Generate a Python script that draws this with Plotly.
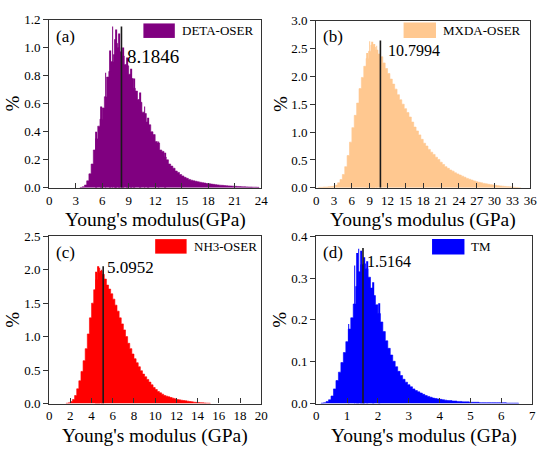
import plotly.graph_objects as go

# ---------------- data ----------------
# (a) DETA-OSER : histogram, bins of width 0.25 starting at 3.5 GPa
a_start, a_width = 3.5, 0.25
a_vals = [0.003, 0.008, 0.02, 0.05, 0.10, 0.17, 0.27, 0.35, 0.44, 0.49, 0.57, 0.65, 0.79, 0.83,
          0.90, 0.95, 1.03, 1.00, 0.97, 0.94, 0.88, 0.87, 0.81, 0.78, 0.71, 0.69, 0.63, 0.61,
          0.54, 0.53, 0.47, 0.45, 0.40, 0.38, 0.33, 0.32, 0.27, 0.26, 0.22, 0.20, 0.17, 0.155,
          0.14, 0.12, 0.11, 0.095, 0.085, 0.075, 0.068, 0.06, 0.055, 0.05, 0.047, 0.043, 0.04,
          0.037, 0.034, 0.031, 0.030, 0.027, 0.025, 0.023, 0.021, 0.019, 0.018, 0.016, 0.015,
          0.014, 0.013, 0.012, 0.011, 0.010, 0.009, 0.008, 0.008, 0.007, 0.006, 0.006, 0.005,
          0.005, 0.004]
a_spike_x = [5.3, 5.9, 6.4, 6.9, 7.2, 7.45, 7.6, 7.9, 8.4, 8.8, 9.3, 9.6, 10.3, 10.8, 11.2, 12.4, 13.1]
a_spike_y = [0.40, 0.58, 0.82, 0.98, 1.15, 1.06, 1.13, 1.10, 1.00, 0.93, 0.85, 0.78, 0.68, 0.58, 0.50, 0.33, 0.25]
a_mean = 8.1846

# (b) MXDA-OSER : bins of width 0.4 starting at 0.4 GPa
b_start, b_width = 0.4, 0.4
b_vals = [0.01, 0.01, 0.015, 0.015, 0.02, 0.025, 0.03, 0.05, 0.09, 0.15, 0.24, 0.38, 0.58, 0.82,
          1.08, 1.30, 1.52, 1.78, 1.98, 2.18, 2.32, 2.45, 2.56, 2.52, 2.47, 2.40, 2.35, 2.24,
          2.14, 2.05, 1.95, 1.86, 1.77, 1.67, 1.58, 1.50, 1.42, 1.35, 1.27, 1.18, 1.09, 1.02,
          0.95, 0.87, 0.80, 0.75, 0.69, 0.64, 0.60, 0.55, 0.51, 0.46, 0.42, 0.38, 0.35, 0.32,
          0.30, 0.27, 0.25, 0.23, 0.21, 0.19, 0.17, 0.155, 0.14, 0.125, 0.11, 0.10, 0.09, 0.08,
          0.072, 0.065, 0.058, 0.052, 0.046, 0.04, 0.035, 0.03, 0.026, 0.022, 0.018, 0.014,
          0.01, 0.007, 0.004]
b_spike_x = [8.6, 9.0, 9.4, 9.8, 10.2]
b_spike_y = [2.42, 2.63, 2.62, 2.58, 2.55]
b_mean = 10.7994

# (c) NH3-OSER : bins of width 0.2 starting at 1.6 GPa
c_start, c_width = 1.6, 0.2
c_vals = [0.005, 0.01, 0.03, 0.06, 0.12, 0.22, 0.34, 0.48, 0.64, 0.82, 1.04, 1.28, 1.50, 1.70,
          1.85, 1.95, 1.98, 1.93, 1.86, 1.77, 1.71, 1.64, 1.56, 1.47, 1.38, 1.28, 1.19, 1.10,
          1.00, 0.90, 0.82, 0.74, 0.67, 0.61, 0.55, 0.49, 0.44, 0.40, 0.36, 0.32, 0.28, 0.24,
          0.21, 0.18, 0.16, 0.14, 0.12, 0.11, 0.10, 0.09, 0.08, 0.07, 0.06, 0.055, 0.05, 0.045,
          0.04, 0.035, 0.03, 0.025, 0.02, 0.018, 0.015, 0.012, 0.01, 0.008, 0.006, 0.005]
c_spike_x = [4.45, 4.6, 4.75, 4.95]
c_spike_y = [1.97, 2.05, 2.03, 2.00]
c_mean = 5.0952

# (d) TM : bins of width 0.08 starting at 0.16 GPa
d_start, d_width = 0.16, 0.08
d_vals = [0.001, 0.002, 0.005, 0.009, 0.018, 0.035, 0.055, 0.075, 0.098, 0.122, 0.148, 0.178,
          0.205, 0.238, 0.28, 0.315, 0.332, 0.334, 0.322, 0.302, 0.276, 0.258, 0.236, 0.215,
          0.195, 0.172, 0.150, 0.132, 0.116, 0.101, 0.088, 0.077, 0.067, 0.058, 0.051, 0.045,
          0.040, 0.035, 0.031, 0.028, 0.025, 0.022, 0.019, 0.017, 0.015, 0.013, 0.012, 0.011,
          0.010, 0.009, 0.008, 0.007, 0.007, 0.006, 0.006, 0.005, 0.005, 0.004, 0.004, 0.004,
          0.003, 0.003, 0.003, 0.003, 0.002, 0.002, 0.002, 0.002, 0.002, 0.002, 0.002, 0.002,
          0.002, 0.002, 0.002, 0.001, 0.001, 0.001, 0.001, 0.001]
d_spike_x = [1.05, 1.25, 1.33, 1.38, 1.45, 1.55, 1.65, 1.85, 2.05]
d_spike_y = [0.19, 0.33, 0.36, 0.37, 0.365, 0.35, 0.34, 0.29, 0.24]
d_mean = 1.5164

panels = [
    dict(name="DETA-OSER", label="(a)", color="#800080", start=a_start, width=a_width, vals=a_vals,
         sx=a_spike_x, sy=a_spike_y, sw=0.07, mean=a_mean, line_top=1.15,
         xr=[0, 24], xd=3, yr=[0, 1.2], yd=0.2, xtitle="Young's modulus(GPa)",
         ann_dx=0.4, ann_y=0.94, ann_size=19),
    dict(name="MXDA-OSER", label="(b)", color="#FFC890", start=b_start, width=b_width, vals=b_vals,
         sx=b_spike_x, sy=b_spike_y, sw=0.12, mean=b_mean, line_top=2.64,
         xr=[0, 36], xd=3, yr=[0, 3.0], yd=0.5, xtitle="Young's modulus (GPa)",
         ann_dx=1.0, ann_y=2.47, ann_size=16),
    dict(name="NH3-OSER", label="(c)", color="#FF0000", start=c_start, width=c_width, vals=c_vals,
         sx=c_spike_x, sy=c_spike_y, sw=0.06, mean=c_mean, line_top=2.05,
         xr=[0, 20], xd=2, yr=[0, 2.5], yd=0.5, xtitle="Young's modulus (GPa)",
         ann_dx=0.15, ann_y=2.03, ann_size=17),
    dict(name="TM", label="(d)", color="#0000FF", start=d_start, width=d_width, vals=d_vals,
         sx=d_spike_x, sy=d_spike_y, sw=0.02, mean=d_mean, line_top=0.372,
         xr=[0, 7], xd=1, yr=[0, 0.4], yd=0.1, xtitle="Young's modulus (GPa)",
         ann_dx=0.07, ann_y=0.34, ann_size=16),
]

# ---------------- layout geometry (pixels) ----------------
W, H = 550, 457
boxes = [  # left, right, top, bottom in px
    (47, 263, 13, 187),
    (319, 537, 14, 187),
    (47, 263, 237, 410),
    (319, 539, 237, 410),
]
legend_boxes = [(143, 175, 17, 32, 180), (408, 441, 16, 32, 446),
                (155, 187, 240, 255, 192), (437, 470, 240, 256, 475)]
FONT = "Liberation Serif"

fig = go.Figure()
layout = dict(width=W, height=H, margin=dict(l=0, r=0, t=0, b=0),
              plot_bgcolor="white", paper_bgcolor="white", showlegend=False,
              barmode="overlay", font=dict(family=FONT, color="black"))
annotations = []
shapes = []


def px2x(p):
    return p / W


def px2y(p):
    return 1 - p / H


for i, (p, (l, r, t, b)) in enumerate(zip(panels, boxes)):
    k = "" if i == 0 else str(i + 1)
    xa, ya = "x" + k, "y" + k
    n = len(p["vals"])
    edges = [p["start"] + p["width"] * j for j in range(n + 1)]
    hist_y = list(p["vals"]) + [p["vals"][-1]]
    fig.add_trace(go.Scatter(x=[edges[0]] + edges + [edges[-1]], y=[0] + hist_y + [0],
                             mode="lines", line=dict(shape="hv", color=p["color"], width=0.6),
                             fill="toself", fillcolor=p["color"], xaxis=xa, yaxis=ya))
    fig.add_trace(go.Bar(x=p["sx"], y=p["sy"], width=p["sw"], opacity=1,
                         marker=dict(color=p["color"], line=dict(width=0)),
                         xaxis=xa, yaxis=ya))
    fig.add_trace(go.Scatter(x=[p["mean"], p["mean"]], y=[0, p["line_top"]], mode="lines",
                             line=dict(color="#1a1a1a", width=1.6), xaxis=xa, yaxis=ya))
    nx = int(round((p["xr"][1] - p["xr"][0]) / p["xd"]))
    ny = int(round((p["yr"][1] - p["yr"][0]) / p["yd"]))
    axis_common = dict(showgrid=False, zeroline=False, showline=True, mirror=True,
                       linecolor="#333333", linewidth=1.2, ticklen=5,
                       tickcolor="#333333", tickfont=dict(family=FONT, size=13, color="black"))
    layout["xaxis" + k] = dict(axis_common, domain=[px2x(l), px2x(r)], range=p["xr"],
                               ticks="inside", tickmode="array",
                               tickvals=[p["xr"][0] + p["xd"] * j for j in range(nx + 1)],
                               ticktext=[f"{p['xr'][0] + p['xd'] * j:g}" for j in range(nx + 1)],
                               anchor=ya)
    layout["yaxis" + k] = dict(axis_common, domain=[px2y(b), px2y(t)], range=p["yr"],
                               ticks="outside", tickmode="array",
                               tickvals=[p["yr"][0] + p["yd"] * j for j in range(ny + 1)],
                               ticktext=[f"{p['yr'][0] + p['yd'] * j:.1f}" for j in range(ny + 1)],
                               anchor=xa)
    annotations.append(dict(x=p["mean"] + p["ann_dx"], y=p["ann_y"], xref=xa, yref=ya,
                            text=f"{p['mean']:.4f}", showarrow=False, xanchor="left",
                            yanchor="middle", font=dict(family=FONT, size=p["ann_size"], color="black")))
    annotations.append(dict(x=px2x(l + 5), y=px2y(t + 17), xref="paper", yref="paper",
                            text=p["label"], showarrow=False, xanchor="left", yanchor="middle",
                            font=dict(family=FONT, size=17, color="black")))
    annotations.append(dict(x=(px2x(l) + px2x(r)) / 2, y=px2y(b + 21), xref="paper", yref="paper",
                            text=p["xtitle"], showarrow=False, xanchor="center", yanchor="top",
                            borderpad=0, font=dict(family=FONT, size=19.5, color="black")))
    annotations.append(dict(x=px2x(l - 37), y=(px2y(t) + px2y(b)) / 2, xref="paper",
                            yref="paper", text="%", showarrow=False, textangle=-90,
                            xanchor="center", yanchor="middle",
                            font=dict(family=FONT, size=19, color="black")))
    x0, x1, y0, y1, tx = legend_boxes[i]
    shapes.append(dict(type="rect", xref="paper", yref="paper", x0=px2x(x0), x1=px2x(x1),
                       y0=px2y(y1), y1=px2y(y0), fillcolor=p["color"], line=dict(width=0)))
    annotations.append(dict(x=px2x(tx), y=px2y((y0 + y1) / 2), xref="paper", yref="paper",
                            text=p["name"], showarrow=False, xanchor="left", yanchor="middle",
                            font=dict(family=FONT, size=13, color="black")))

layout["annotations"] = annotations
layout["shapes"] = shapes
fig.update_layout(**layout)
fig.write_html("out.html", config={"displayModeBar": False},
               post_script="document.body.style.margin='0';document.body.style.overflow='hidden';")
